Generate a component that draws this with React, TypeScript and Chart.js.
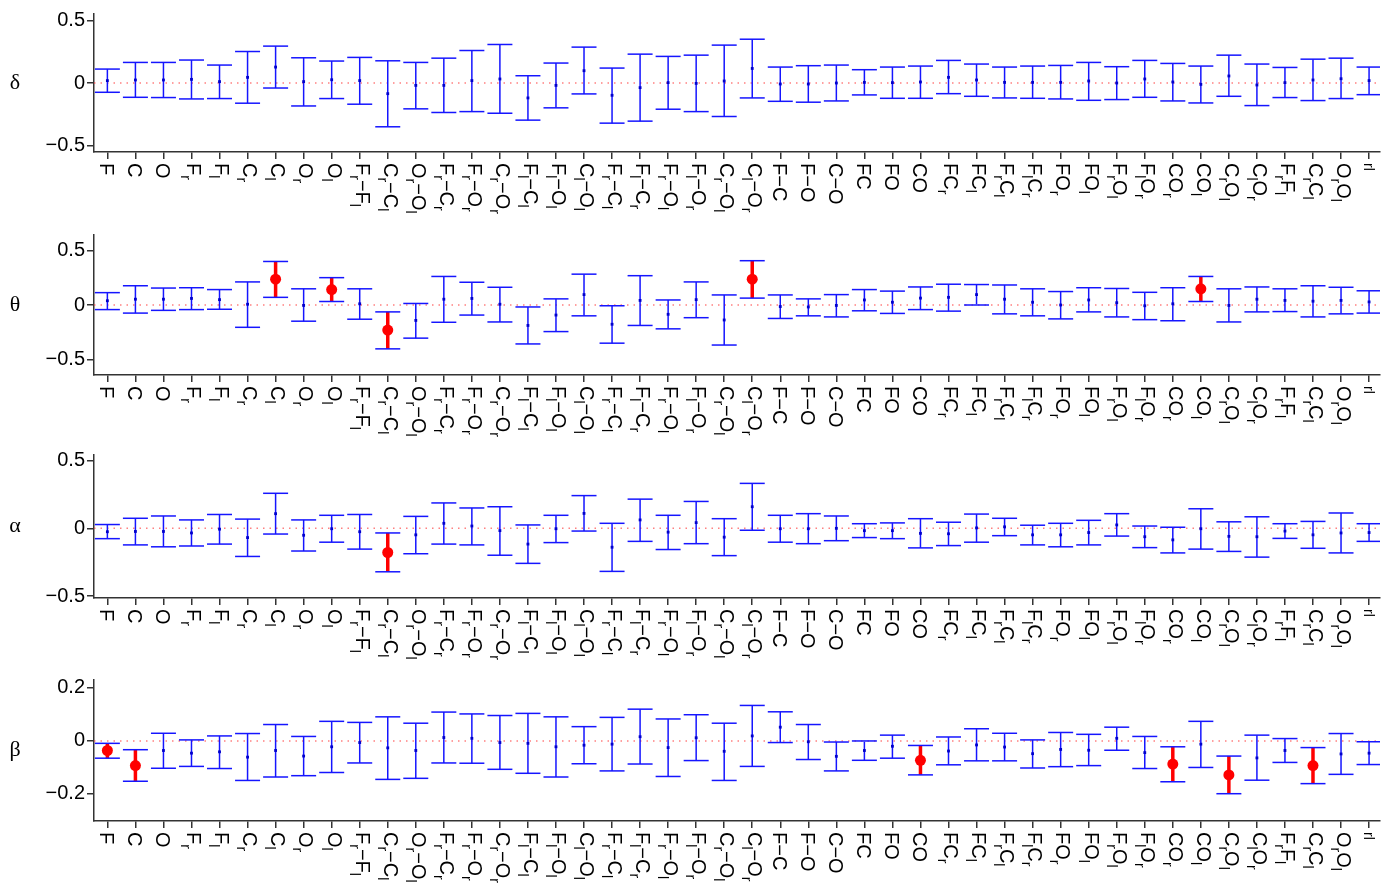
import React, { useEffect, useRef } from 'react';
import { Chart, registerables } from 'chart.js';

Chart.register(...registerables);

// ---------- data ----------
const categories = [
  'F', 'C', 'O', 'F_r', 'F_l', 'C_r', 'C_l', 'O_r', 'O_l',
  'F_r−F_l', 'C_r−C_l', 'O_r−O_l', 'F_r−C_r', 'F_r−O_r', 'C_r−O_r',
  'F_l−C_l', 'F_l−O_l', 'C_l−O_l', 'F_r−C_l', 'F_l−C_r', 'F_r−O_l',
  'F_l−O_r', 'C_r−O_l', 'C_l−O_r', 'F−C', 'F−O', 'C−O', 'FC', 'FO', 'CO',
  'FC_r', 'FC_l', 'F_rC_l', 'F_lC_r', 'FO_r', 'FO_l', 'F_rO_l', 'F_lO_r',
  'CO_r', 'CO_l', 'C_rO_l', 'C_lO_r', 'F_rF_l', 'C_rC_l', 'O_rO_l', 'rl',
];

const deltaMid = [0.019, 0.024, 0.024, 0.029, 0.011, 0.045, 0.127, 0.011, 0.026, 0.019, -0.085, -0.019, -0.019, 0.019, 0.032, -0.119, -0.019, 0.098, -0.098, -0.037, 0.003, -0.003, 0.016, 0.116, -0.008, -0.008, 0, 0.005, 0.003, 0.008, 0.045, 0.024, 0.005, 0.005, 0.005, 0.016, 0, 0.032, 0.008, -0.011, 0.056, -0.016, 0.003, 0.024, 0.034, 0.019];
const deltaLow = [-0.074, -0.114, -0.116, -0.127, -0.124, -0.161, -0.040, -0.183, -0.124, -0.169, -0.349, -0.206, -0.235, -0.228, -0.241, -0.296, -0.198, -0.087, -0.320, -0.304, -0.209, -0.228, -0.267, -0.119, -0.146, -0.153, -0.143, -0.095, -0.122, -0.122, -0.085, -0.106, -0.119, -0.122, -0.127, -0.138, -0.132, -0.114, -0.143, -0.159, -0.106, -0.180, -0.116, -0.140, -0.124, -0.093];
const deltaHigh = [0.111, 0.164, 0.164, 0.183, 0.143, 0.251, 0.294, 0.201, 0.175, 0.204, 0.177, 0.164, 0.198, 0.259, 0.307, 0.058, 0.159, 0.286, 0.119, 0.230, 0.212, 0.222, 0.302, 0.349, 0.127, 0.138, 0.143, 0.106, 0.127, 0.135, 0.180, 0.151, 0.127, 0.135, 0.140, 0.164, 0.130, 0.180, 0.156, 0.135, 0.222, 0.151, 0.124, 0.190, 0.198, 0.127];
const deltaSig: number[] = [];

const thetaMid = [0.039, 0.053, 0.053, 0.060, 0.049, 0.007, 0.236, -0.004, 0.141, 0.011, -0.229, -0.141, 0.053, 0.060, 0.007, -0.187, -0.092, 0.095, -0.176, 0.042, -0.085, 0.049, -0.137, 0.236, -0.014, -0.018, -0.004, 0.046, 0.025, 0.063, 0.070, 0.095, 0.053, 0.025, 0.0, 0.046, 0.021, -0.007, 0.011, 0.148, -0.004, 0.053, 0.042, 0.035, 0.042, 0.028];
const thetaLow = [-0.042, -0.074, -0.049, -0.042, -0.039, -0.204, 0.070, -0.148, 0.032, -0.130, -0.401, -0.303, -0.158, -0.092, -0.155, -0.356, -0.243, -0.099, -0.349, -0.187, -0.218, -0.116, -0.366, 0.063, -0.123, -0.099, -0.109, -0.053, -0.077, -0.042, -0.056, 0.0, -0.081, -0.099, -0.127, -0.063, -0.109, -0.134, -0.144, 0.032, -0.155, -0.063, -0.060, -0.109, -0.081, -0.074];
const thetaHigh = [0.113, 0.176, 0.155, 0.158, 0.141, 0.211, 0.398, 0.148, 0.250, 0.148, -0.063, 0.014, 0.261, 0.208, 0.162, -0.018, 0.056, 0.282, -0.007, 0.268, 0.046, 0.211, 0.092, 0.405, 0.092, 0.056, 0.095, 0.141, 0.127, 0.165, 0.190, 0.187, 0.183, 0.148, 0.123, 0.158, 0.151, 0.116, 0.158, 0.261, 0.148, 0.165, 0.148, 0.176, 0.162, 0.130];
const thetaSig = [7, 9, 11, 24, 40];

const alphaMid = [-0.025, -0.023, -0.023, -0.034, -0.006, -0.068, 0.108, -0.051, -0.003, -0.025, -0.178, -0.048, 0.037, 0.017, -0.017, -0.116, -0.003, 0.110, -0.139, 0.062, -0.028, 0.042, -0.065, 0.159, -0.003, -0.003, 0.0, -0.017, -0.017, -0.037, -0.040, 0.003, 0.011, -0.048, -0.048, -0.031, 0.025, -0.062, -0.085, -0.003, -0.059, -0.062, -0.020, -0.048, -0.034, -0.031];
const alphaLow = [-0.076, -0.122, -0.136, -0.130, -0.116, -0.207, -0.042, -0.167, -0.102, -0.153, -0.320, -0.187, -0.116, -0.122, -0.198, -0.258, -0.105, -0.020, -0.317, -0.096, -0.156, -0.113, -0.201, -0.014, -0.102, -0.113, -0.091, -0.068, -0.076, -0.144, -0.127, -0.102, -0.054, -0.122, -0.136, -0.122, -0.057, -0.142, -0.181, -0.153, -0.170, -0.212, -0.074, -0.147, -0.181, -0.096];
const alphaHigh = [0.028, 0.074, 0.091, 0.062, 0.102, 0.068, 0.258, 0.062, 0.096, 0.102, -0.034, 0.088, 0.187, 0.150, 0.159, 0.025, 0.096, 0.241, 0.037, 0.215, 0.096, 0.198, 0.071, 0.331, 0.096, 0.108, 0.091, 0.034, 0.040, 0.071, 0.045, 0.105, 0.074, 0.023, 0.037, 0.059, 0.108, 0.017, 0.008, 0.144, 0.048, 0.085, 0.034, 0.051, 0.113, 0.034];
const alphaSig = [11];

const betaMid = [-0.036, -0.093, -0.036, -0.046, -0.041, -0.061, -0.036, -0.057, -0.022, -0.006, -0.026, -0.036, 0.013, 0.010, -0.006, -0.009, -0.022, -0.016, -0.012, 0.016, -0.025, 0.012, -0.039, 0.019, 0.052, -0.003, -0.058, -0.036, -0.020, -0.073, -0.038, -0.015, -0.023, -0.048, -0.032, -0.035, 0.010, -0.044, -0.087, -0.012, -0.128, -0.064, -0.036, -0.093, -0.049, -0.046];
const betaLow = [-0.065, -0.152, -0.103, -0.096, -0.104, -0.149, -0.136, -0.131, -0.119, -0.083, -0.145, -0.141, -0.083, -0.084, -0.107, -0.122, -0.136, -0.086, -0.113, -0.087, -0.134, -0.074, -0.149, -0.096, -0.006, -0.070, -0.113, -0.073, -0.065, -0.128, -0.090, -0.075, -0.075, -0.102, -0.097, -0.093, -0.035, -0.104, -0.154, -0.100, -0.199, -0.148, -0.081, -0.161, -0.126, -0.089];
const betaHigh = [-0.009, -0.033, 0.029, 0.004, 0.019, 0.028, 0.062, 0.017, 0.074, 0.070, 0.091, 0.067, 0.109, 0.102, 0.096, 0.104, 0.091, 0.054, 0.089, 0.120, 0.083, 0.099, 0.067, 0.134, 0.110, 0.062, -0.004, 0.0, 0.022, -0.017, 0.015, 0.046, 0.029, 0.004, 0.032, 0.025, 0.052, 0.017, -0.022, 0.074, -0.057, 0.022, 0.009, -0.025, 0.028, -0.003];
const betaSig = [1, 2, 30, 39, 41, 44];

const panelTitles = ['δ', 'θ', 'α', 'β'];
const yLimits = [[-0.55, 0.55], [-0.64, 0.64], [-0.513, 0.54], [-0.302, 0.23]];
const yTickValues = [[-0.5, 0, 0.5], [-0.5, 0, 0.5], [-0.5, 0, 0.5], [-0.2, 0, 0.2]];
const xLimits = [0.523, 46.39];

// ---------- layout / style ----------
const W = 1394;
const LAYOUT = [
  { top: 0, height: 220, padTop: 13, axisY: 152 },
  { top: 220, height: 220, padTop: 15, axisY: 155 },
  { top: 440, height: 222, padTop: 15, axisY: 158 },
  { top: 662, height: 221, padTop: 18, axisY: 159 },
];
const FONT = '"Liberation Sans", Arial, Helvetica, sans-serif';
const BLUE = '#1515ff';
const RED = '#ff0000';
const AXIS = '#333333';

const PANEL_DATA = [
  { mid: deltaMid, low: deltaLow, high: deltaHigh, sig: deltaSig },
  { mid: thetaMid, low: thetaLow, high: thetaHigh, sig: thetaSig },
  { mid: alphaMid, low: alphaLow, high: alphaHigh, sig: alphaSig },
  { mid: betaMid, low: betaLow, high: betaHigh, sig: betaSig },
];

function drawRichLabel(ctx: CanvasRenderingContext2D, label: string, px: number, py: number) {
  const base = 20;
  const sub = 14;
  const capH = base * 0.716;
  const subOff = 6;
  ctx.save();
  ctx.translate(px, py);
  ctx.rotate(Math.PI / 2);
  ctx.fillStyle = '#000';
  ctx.textAlign = 'left';
  ctx.textBaseline = 'alphabetic';
  if (label === 'rl') {
    ctx.font = `${sub}px ${FONT}`;
    const h = sub * 0.72;
    ctx.fillText(label, 0, h / 2);
    ctx.restore();
    return;
  }
  const hasSub = label.indexOf('_') >= 0;
  const baseline = hasSub ? (capH - subOff) / 2 : capH / 2;
  let x = 0;
  for (let i = 0; i < label.length; i++) {
    let ch = label[i];
    let isSub = false;
    if (ch === '_') {
      isSub = true;
      i++;
      ch = label[i];
    }
    ctx.font = `${isSub ? sub : base}px ${FONT}`;
    ctx.fillText(ch, x, baseline + (isSub ? subOff : 0));
    x += ctx.measureText(ch).width;
  }
  ctx.restore();
}

function makeConfig(pi: number): any {
  const d = PANEL_DATA[pi];
  const lay = LAYOUT[pi];
  const isSig = (i: number) => d.sig.indexOf(i + 1) >= 0;

  const blueBars: any[] = [];
  const redBars: any[] = [];
  const caps: any[] = [];
  const bluePts: any[] = [];
  const redPts: any[] = [];
  categories.forEach((_, i) => {
    const x = i + 1;
    const bar = { x, y: [d.low[i], d.high[i]] };
    if (isSig(i)) {
      redBars.push(bar);
      redPts.push({ x, y: d.mid[i] });
    } else {
      blueBars.push(bar);
      bluePts.push({ x, y: d.mid[i] });
    }
    caps.push({ x, y: d.high[i] });
    caps.push({ x, y: d.low[i] });
  });

  const labelPlugin = {
    id: 'panelText' + pi,
    afterDraw(chart: any) {
      const ctx: CanvasRenderingContext2D = chart.ctx;
      const area = chart.chartArea;
      const xs = chart.scales.x;
      ctx.save();
      ctx.fillStyle = '#000';
      ctx.font = `22px "Liberation Serif", "DejaVu Serif", serif`;
      ctx.textAlign = 'center';
      ctx.textBaseline = 'middle';
      ctx.fillText(panelTitles[pi], 15, (area.top + area.bottom) / 2);
      ctx.restore();
      categories.forEach((lab, i) => {
        const px = xs.getPixelForValue(i + 1);
        drawRichLabel(ctx, lab, px, area.bottom + 11);
      });
    },
  };

  return {
    type: 'scatter',
    data: {
      datasets: [
        {
          type: 'scatter',
          data: redPts,
          pointStyle: 'circle',
          pointRadius: 5.5,
          pointBackgroundColor: RED,
          pointBorderWidth: 0,
        },
        {
          type: 'scatter',
          data: bluePts,
          pointStyle: 'rect',
          pointRadius: 2,
          pointBackgroundColor: '#0000cc',
          pointBorderWidth: 0,
        },
        {
          type: 'scatter',
          data: caps,
          pointStyle: 'line',
          pointRadius: 12.5,
          pointBorderColor: BLUE,
          pointBorderWidth: 1.5,
        },
        {
          type: 'bar',
          data: redBars,
          backgroundColor: RED,
          borderWidth: 0,
          grouped: false,
          maxBarThickness: 3.5,
        },
        {
          type: 'bar',
          data: blueBars,
          backgroundColor: BLUE,
          borderWidth: 0,
          grouped: false,
          maxBarThickness: 1.5,
        },
        {
          type: 'line',
          data: [
            { x: xLimits[0], y: 0 },
            { x: xLimits[1], y: 0 },
          ],
          borderColor: 'rgba(255,60,60,0.65)',
          borderWidth: 1.5,
          borderDash: [1.5, 5],
          pointRadius: 0,
          fill: false,
        },
      ],
    },
    options: {
      responsive: false,
      animation: false,
      events: [],
      layout: { padding: { top: lay.padTop, right: W - 1383, left: 0, bottom: 0 } },
      plugins: { legend: { display: false }, tooltip: { enabled: false } },
      scales: {
        x: {
          type: 'linear',
          position: 'bottom',
          min: xLimits[0],
          max: xLimits[1],
          offset: false,
          afterBuildTicks: (s: any) => {
            s.ticks = categories.map((_, i) => ({ value: i + 1 }));
          },
          afterFit: (s: any) => {
            s.height = lay.height - lay.axisY;
          },
          ticks: { display: false, autoSkip: false },
          grid: {
            offset: false,
            drawOnChartArea: false,
            drawTicks: true,
            tickLength: 7,
            color: AXIS,
            lineWidth: 1.5,
          },
          border: { display: true, color: AXIS, width: 1.5 },
        },
        y: {
          type: 'linear',
          position: 'left',
          min: yLimits[pi][0],
          max: yLimits[pi][1],
          afterBuildTicks: (s: any) => {
            s.ticks = yTickValues[pi].map((v) => ({ value: v }));
          },
          afterFit: (s: any) => {
            s.width = 94;
          },
          ticks: {
            color: '#000',
            padding: 2,
            font: { family: FONT, size: 20 },
            callback: (v: number) => (v === 0 ? '0' : (v < 0 ? '−' : '') + String(Math.abs(v))),
          },
          grid: {
            drawOnChartArea: false,
            drawTicks: true,
            tickLength: 7,
            color: AXIS,
            lineWidth: 1.5,
          },
          border: { display: true, color: AXIS, width: 1.5 },
        },
      },
    },
    plugins: [labelPlugin],
  };
}

function Panel({ index }: { index: number }) {
  const ref = useRef<HTMLCanvasElement>(null);
  const lay = LAYOUT[index];
  useEffect(() => {
    if (!ref.current) return;
    const chart = new Chart(ref.current, makeConfig(index));
    return () => chart.destroy();
  }, [index]);
  return (
    <canvas
      ref={ref}
      width={W}
      height={lay.height}
      style={{ position: 'absolute', left: 0, top: lay.top, width: W, height: lay.height, display: 'block' }}
    />
  );
}

export default function App() {
  return (
    <div style={{ position: 'fixed', left: 0, top: 0, width: W, height: 883, background: '#fff', overflow: 'hidden' }}>
      {LAYOUT.map((_, i) => (
        <Panel key={i} index={i} />
      ))}
    </div>
  );
}
